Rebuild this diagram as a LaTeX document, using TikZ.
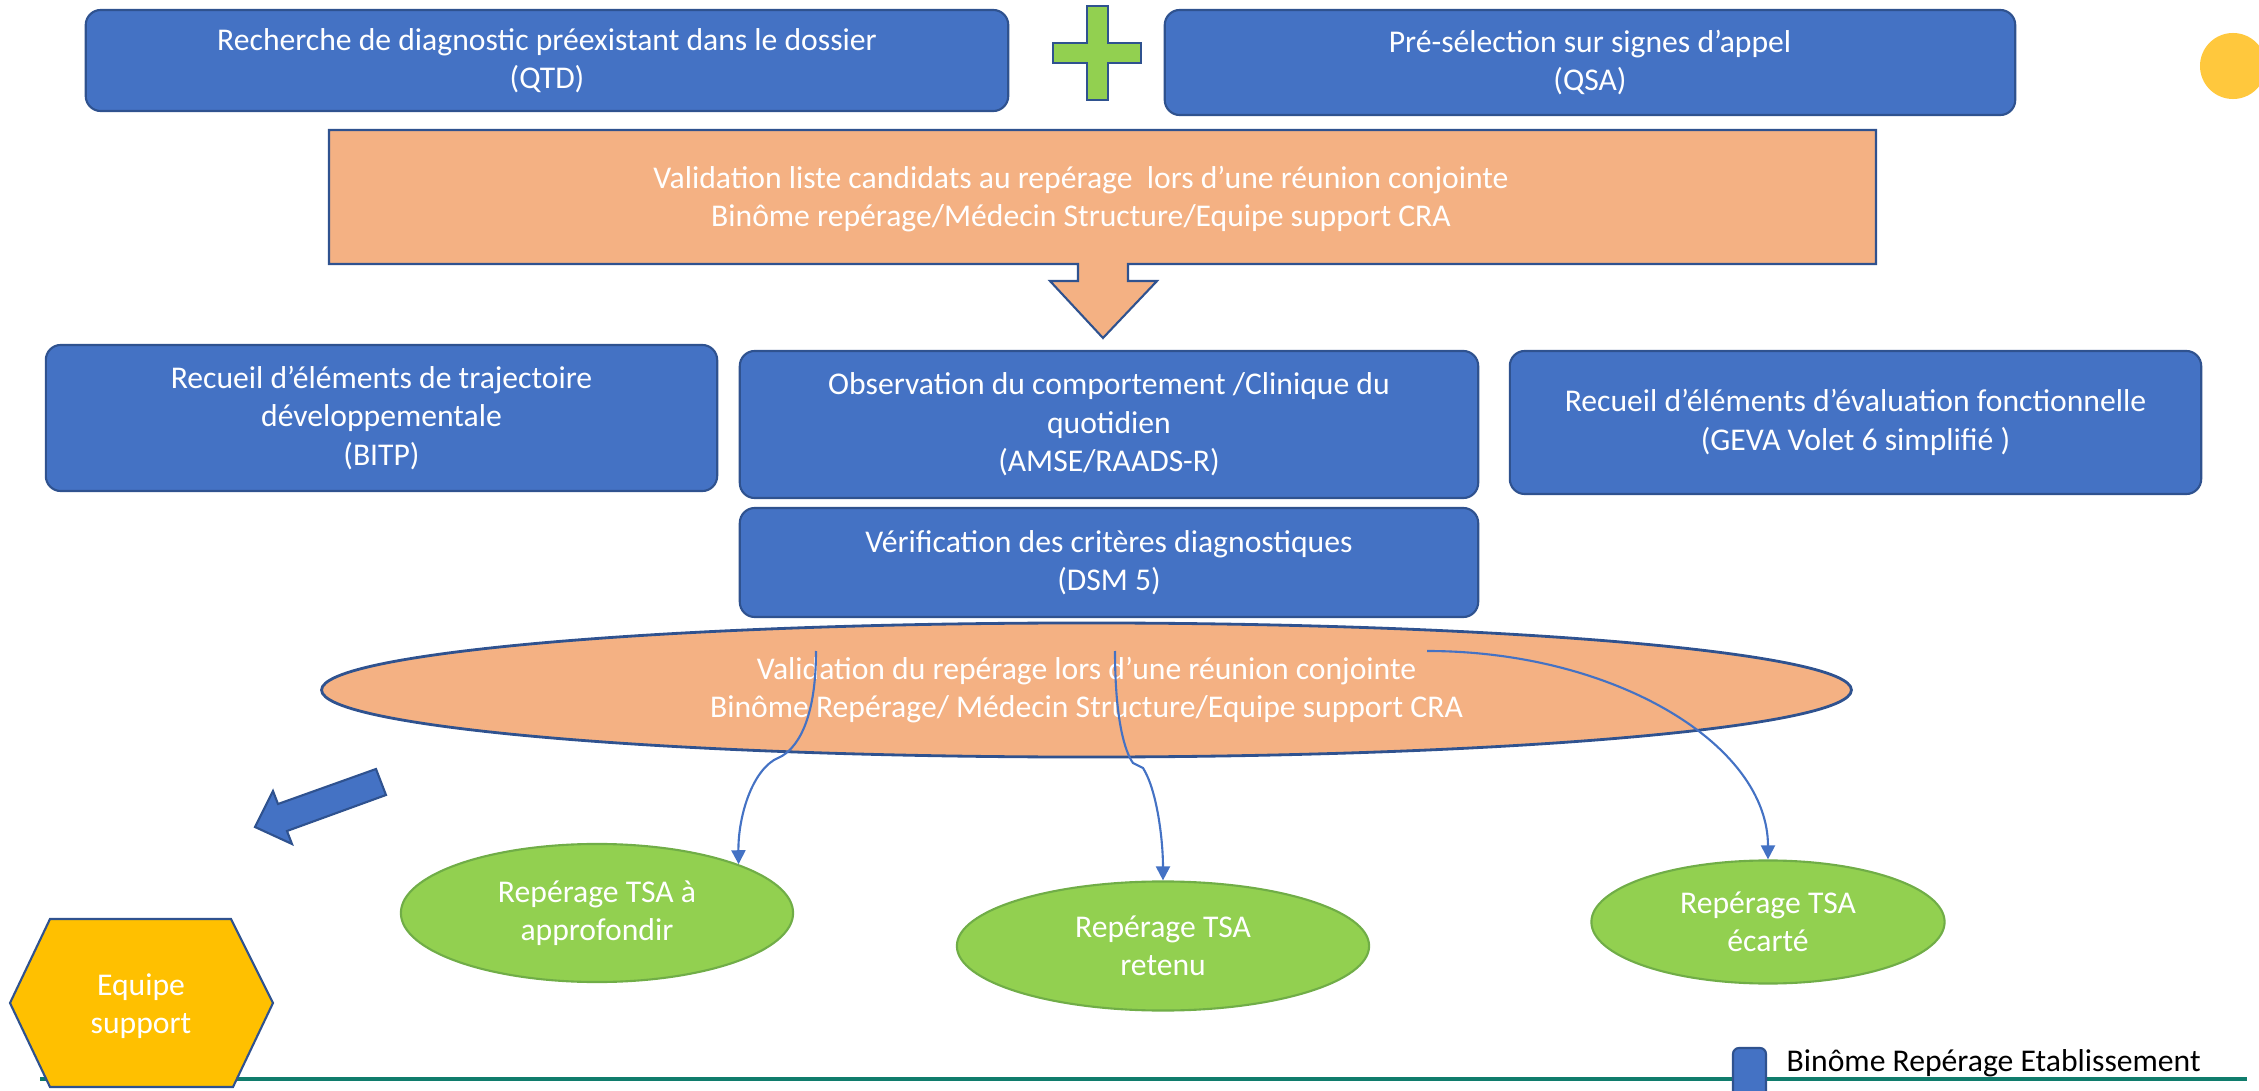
\documentclass[tikz,border=0pt]{standalone}
\usepackage{fontspec}
\setmainfont{Carlito}
\usetikzlibrary{shapes.geometric,arrows.meta}

\definecolor{boxblue}{RGB}{68,114,196}
\definecolor{edgeblue}{RGB}{47,82,143}
\definecolor{salmon}{RGB}{244,177,131}
\definecolor{leaf}{RGB}{146,208,80}
\definecolor{leafedge}{RGB}{112,173,71}
\definecolor{gold}{RGB}{255,192,0}
\definecolor{sun}{RGB}{255,200,61}
\definecolor{lineteal}{RGB}{16,124,108}
\newcommand{\txt}{\fontsize{9}{10.9}\selectfont}

\begin{document}
\begin{tikzpicture}[x=0.01cm,y=-0.01cm,
		box/.style={draw=edgeblue,fill=boxblue,rounded corners=0.15cm,line width=0.6pt,text=white,align=center,font=\txt,inner sep=0pt},
		oval/.style={ellipse,draw=leafedge,fill=leaf,line width=0.6pt,text=white,align=center,font=\txt,inner sep=0pt},
		label/.style={text=white,align=center,font=\txt,inner sep=0pt},
		link/.style={draw=boxblue,line width=0.6pt,-{Triangle[length=1.4mm,width=1.4mm]}}]
		\useasboundingbox (0,0) rectangle (2259,1091);
		\fill[sun] (2233,66) circle (0.33cm);
		\node[box,minimum width=9.22cm,minimum height=1.01cm] (qtd) at (547,60.5) {Recherche de diagnostic préexistant dans le dossier\\(QTD)};
		\node[box,minimum width=8.5cm,minimum height=1.05cm] (qsa) at (1590,62.5) {Pré-sélection sur signes d’appel\\(QSA)};
		\draw[draw=edgeblue,fill=leaf,line width=0.6pt] (1087,6) -- (1108,6) -- (1108,43) -- (1141,43) -- (1141,63) -- (1108,63) -- (1108,100) -- (1087,100) -- (1087,63) -- (1053,63) -- (1053,43) -- (1087,43) -- cycle;
		\draw[draw=edgeblue,fill=salmon,line width=0.6pt] (329,130) -- (1876,130) -- (1876,264) -- (1128,264) -- (1128,281) -- (1157,281) -- (1103,338) -- (1050,281) -- (1078,281) -- (1078,264) -- (329,264) -- cycle;
		\node[label] (liste) at (1081,199) {Validation liste candidats au repérage~ lors d’une réunion conjointe\\Binôme repérage/Médecin Structure/Equipe support CRA};
		\node[box,minimum width=6.71cm,minimum height=1.46cm] (bitp) at (381.5,418) {Recueil d’éléments de trajectoire\\développementale\\(BITP)};
		\node[box,minimum width=7.38cm,minimum height=1.47cm] (amse) at (1109,424.5) {Observation du comportement /Clinique du\\quotidien\\(AMSE/RAADS-R)};
		\node[box,minimum width=7.38cm,minimum height=1.09cm] (dsm) at (1109,562.5) {Vérification des critères diagnostiques\\(DSM 5)};
		\node[box,minimum width=6.91cm,minimum height=1.43cm] (geva) at (1855.5,422.5) {Recueil d’éléments d’évaluation fonctionnelle\\(GEVA Volet 6 simplifié )};
		\node[ellipse,draw=edgeblue,fill=salmon,line width=0.8pt,minimum width=15.29cm,minimum height=1.34cm,label] (reunion) at (1086.5,690) {Validation du repérage lors d’une réunion conjointe\\Binôme Repérage/ Médecin Structure/Equipe support CRA};
		\node[oval,minimum width=3.92cm,minimum height=1.38cm] (appro) at (597,913) {Repérage TSA à\\approfondir};
		\node[oval,minimum width=4.12cm,minimum height=1.29cm] (retenu) at (1163,946) {Repérage TSA\\retenu};
		\node[oval,minimum width=3.53cm,minimum height=1.23cm] (ecarte) at (1768,922) {Repérage TSA\\écarté};
		\coordinate (s1) at (816,651);
		\coordinate (s2) at (1115,651);
		\coordinate (s3) at (1427,651);
		\draw[link] (s1) .. controls (816,715) and (800,745) .. (782,756) -- (774,760) .. controls (750,775) and (738,820) .. (appro.19);
		\draw[link] (s2) .. controls (1115,720) and (1125,752) .. (1133,763) -- (1143,768) .. controls (1157,790) and (1163,840) .. (retenu.north);
		\draw[link] (s3) .. controls (1615,651) and (1768,745) .. (ecarte.north);
		\draw[draw=edgeblue,fill=boxblue,line width=0.6pt] (376,769) -- (278,804) -- (273,791) -- (255,827) -- (292,844) -- (287,831) -- (386,795) -- cycle;
		\draw[lineteal,line width=1.1pt] (40,1079) -- (2247,1079);
		\draw[draw=edgeblue,fill=gold,line width=0.6pt] (10,1003) -- (50,919) -- (231,919) -- (273,1003) -- (233,1087) -- (50,1087) -- cycle;
		\node[label] (equipe) at (141,1006) {Equipe\\support};
		\draw[draw=edgeblue,fill=boxblue,rounded corners=0.06cm,line width=0.6pt] (1733,1048) rectangle (1766,1100);
		\node[anchor=west,font=\txt,inner sep=0pt] (binome) at (1786,1063) {Binôme Repérage Etablissement};
	\end{tikzpicture}
\end{document}
